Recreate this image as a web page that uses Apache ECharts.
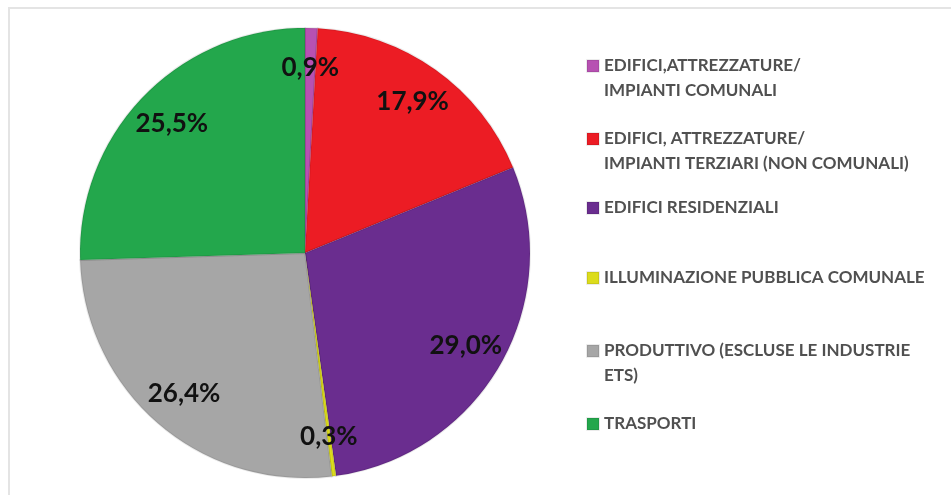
<!DOCTYPE html>
<html>
<head>
<meta charset="utf-8">
<script src="https://cdn.jsdelivr.net/npm/echarts@6/dist/echarts.min.js"></script>
<style>
  html, body { margin: 0; padding: 0; background: #fff; }
  #chart { width: 951px; height: 495px; }
</style>
</head>
<body>
<div id="chart"></div>
<script>
// settori (in senso orario dalle ore 12)
var categories = [
    'EDIFICI,ATTREZZATURE/\nIMPIANTI COMUNALI',
    'EDIFICI, ATTREZZATURE/\nIMPIANTI TERZIARI (NON COMUNALI)',
    'EDIFICI RESIDENZIALI',
    'ILLUMINAZIONE PUBBLICA COMUNALE',
    'PRODUTTIVO (ESCLUSE LE INDUSTRIE\nETS)',
    'TRASPORTI'
];
var values = [0.9, 17.9, 29.0, 0.3, 26.4, 25.5];
var colors = ['#b751b2', '#ec1c24', '#6a2d8f', '#dcdc1c', '#a6a6a6', '#23a74c'];

// posizione verticale della legenda (centro del quadratino)
var legendTops = [66, 139, 208, 278, 351, 424];

var pieData = categories.map(function (name, i) {
    return { name: name, value: values[i], itemStyle: { color: colors[i] } };
});

var legends = categories.map(function (name, i) {
    var twoLines = name.indexOf('\n') >= 0;
    return {
        orient: 'vertical',
        left: 586,
        top: legendTops[i] - (twoLines ? 37.5 : 12.5),
        padding: 0,
        itemWidth: 12,
        itemHeight: 12,
        icon: 'rect',
        selectedMode: false,
        data: [name],
        // riga vuota in testa: la prima riga resta allineata al quadratino
        formatter: function (n) {
            return n.indexOf('\n') >= 0 ? '\n' + n : n;
        },
        textStyle: {
            fontFamily: 'Lato',
            fontWeight: 'bold',
            fontSize: 17,
            lineHeight: 25,
            color: '#505050'
        }
    };
});

function pctLabel(p) {
    return p.value.toFixed(1).replace('.', ',') + '%';
}

var option = {
    animation: false,
    backgroundColor: '#ffffff',
    graphic: [{
        type: 'rect',
        shape: { x: 9, y: 8, width: 1000, height: 600 },
        style: { fill: 'none', stroke: '#e4e4e4', lineWidth: 2 },
        silent: true
    }],
    legend: legends,
    series: [
        {
            type: 'pie',
            center: [305, 253],
            radius: [0, 225],
            startAngle: 90,
            clockwise: true,
            data: pieData,
            label: { show: false },
            labelLine: { show: false },
            itemStyle: { borderColor: 'rgba(0,0,0,0.08)', borderWidth: 2 },
            emphasis: { disabled: true }
        },
        {
            // anello trasparente per posizionare le etichette verso il bordo
            type: 'pie',
            center: [305, 253],
            radius: [140, 225],
            startAngle: 90,
            clockwise: true,
            silent: true,
            data: pieData.map(function (d) {
                return { name: d.name, value: d.value, itemStyle: { color: 'rgba(0,0,0,0)' } };
            }),
            label: {
                show: true,
                position: 'inside',
                formatter: pctLabel,
                fontFamily: 'Lato',
                fontWeight: 'bold',
                fontSize: 26,
                color: '#111111'
            },
            labelLine: { show: false },
            emphasis: { disabled: true }
        }
    ]
};

var chart = echarts.init(document.getElementById('chart'));
chart.setOption(option);
</script>
</body>
</html>
